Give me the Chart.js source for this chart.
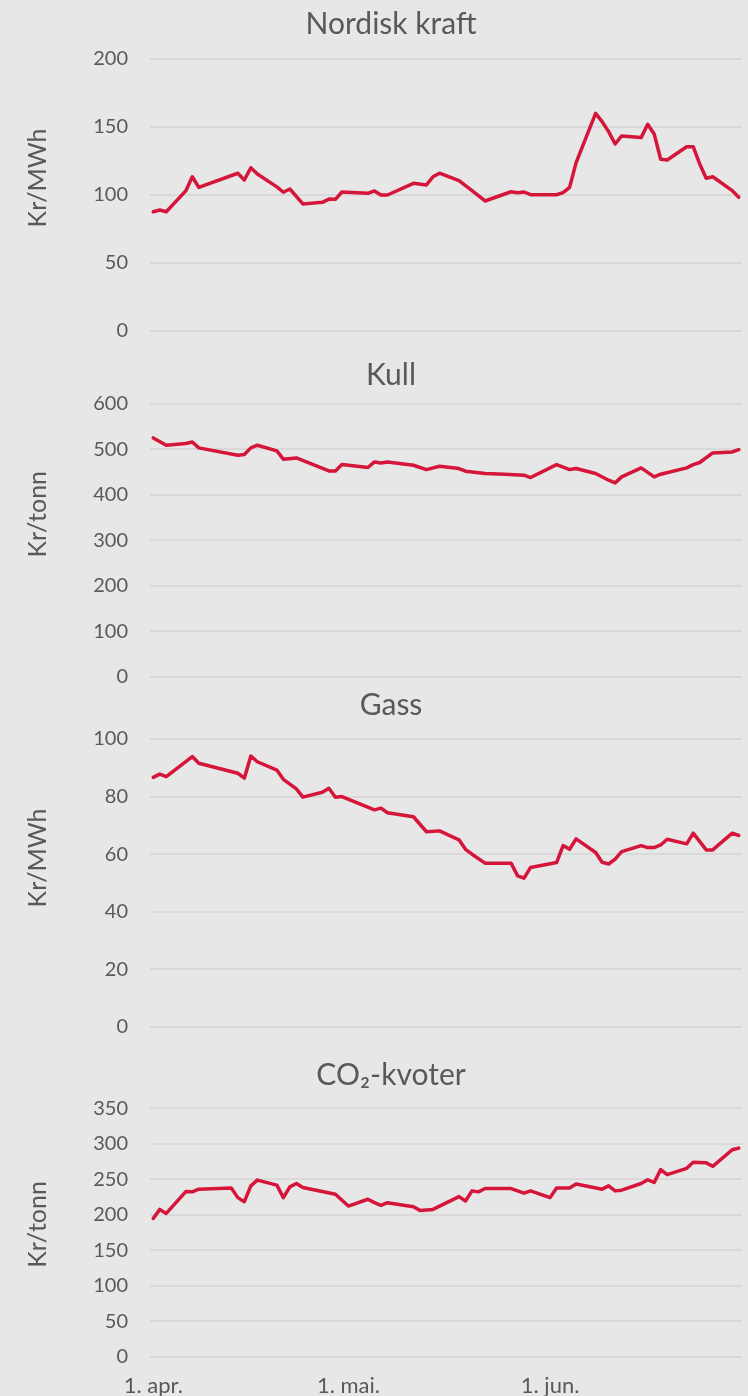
<!DOCTYPE html>
<html>
<head>
<meta charset="utf-8">
<script src="https://cdn.jsdelivr.net/npm/chart.js@4"></script>
<style>
html,body{margin:0;padding:0;background:#e6e7e6;}
#wrap{position:relative;width:748px;height:1396px;overflow:hidden;background:#e6e7e6;}
canvas{position:absolute;left:0;}
</style>
</head>
<body>
<div id="wrap">
<canvas id="c1"></canvas>
<canvas id="c2"></canvas>
<canvas id="c3"></canvas>
<canvas id="c4"></canvas>
</div>
<script>
// Days counted from 1 April (day 0)
const xTickDays = [0, 30, 61];
const xTickLabels = ['1. apr.', '1. mai.', '1. jun.'];

const titles = ['Nordisk kraft', 'Kull', 'Gass', 'CO\u2082-kvoter'];
const units = ['Kr/MWh', 'Kr/tonn', 'Kr/MWh', 'Kr/tonn'];
const yMax = [200, 600, 100, 350];
const yStep = [50, 100, 20, 50];

const kraftDays = [0,1,2,5,6,7,13,14,15,16,19,20,21,23,26,27,28,29,33,34,35,36,40,42,43,44,47,49,51,55,56,57,58,62,63,64,65,68,69,70,71,72,75,76,77,78,79,82,83,84,85,86,89,90];
const kraftVals = [87.7,89,87.7,103,113.4,105.6,116,111,120,115.4,106,102,104.4,93.4,94.6,97,96.8,102.2,101.2,103,100,100,108.6,107.4,113.4,116,110.5,103.2,95.6,102.4,101.7,102.2,100.2,100.2,101.7,105.6,123.8,160,153.9,146.6,137.5,143.4,142.2,152,144.9,126.3,125.7,135.5,135.5,122.8,112.3,113.4,103.2,98.3];

const kullDays = [0,2,5,6,7,13,14,15,16,19,20,22,27,28,29,33,34,35,36,40,42,44,47,48,51,54,57,58,62,64,65,68,70,71,72,75,77,78,82,83,84,86,89,90];
const kullVals = [524.5,508.5,512.2,515.7,502.6,486.5,488,502.6,508.5,496,477.8,480.6,452,452,466,459.5,471.8,469.6,471.8,464.6,455,462.4,457.3,451.4,446.4,444.8,442.7,437.6,466,455,457.3,446.4,431.7,425.8,439,458.7,439,444.8,458.7,466,470.5,491.6,493.8,499];

const gassDays = [0,1,2,6,7,13,14,15,16,19,20,22,23,26,27,28,29,34,35,36,40,42,44,47,48,49,51,55,56,57,58,62,63,64,65,68,69,70,71,72,75,76,77,78,79,82,83,85,86,89,90];
const gassVals = [86.7,87.8,86.9,93.9,91.6,88.1,86.4,94.1,92.1,89.2,86,82.7,79.8,81.5,82.9,79.8,80,75.4,76,74.4,73,67.8,68.1,65,61.7,60,56.9,56.9,52.5,51.7,55.4,57.1,63,61.7,65.3,60.6,57.2,56.6,58.3,60.9,63,62.3,62.3,63.2,65.2,63.6,67.3,61.5,61.5,67.3,66.5];

const co2Days = [0,1,2,5,6,7,12,13,14,15,16,19,20,21,22,23,28,30,33,34,35,36,40,41,43,47,48,49,50,51,55,57,58,61,62,64,65,69,70,71,72,75,76,77,78,79,82,83,85,86,89,90];
const co2Vals = [194.7,207.5,201.8,232.6,232.2,236,237.5,224.1,218.4,240.7,248.8,241.7,224.1,239.3,244,238.3,228.9,212.2,221.8,217,213.2,217,211.3,206.1,207.5,225.5,219.4,233.6,232.2,236.9,236.9,230.3,233.6,224.1,237.5,237.5,243.2,236,240.7,233.6,234.6,244,249.3,245.4,263.5,256.4,265.4,273.9,273.1,268.2,291.6,293.9];

const seriesDays = [kraftDays, kullDays, gassDays, co2Days];
const seriesVals = [kraftVals, kullVals, gassVals, co2Vals];

// layout (pixels)
const panels = [
  {top: 6,    height: 359, titleGap: 17, titleShift: 17},
  {top: 357,  height: 354, titleGap: 10.5, titleShift: 26},
  {top: 687,  height: 374, titleGap: 16, titleShift: 25},
  {top: 1057, height: 350, titleGap: 15.3, titleShift: 8}
];

const TXT = '#595959';
const FONT = 'Lato, "Open Sans", sans-serif';
const RED = '#d6153a';
const GRID = '#d8d9d8';

const yTitlePlugin = {
  id: 'yTitle',
  afterDraw(chart, args, opts) {
    const ca = chart.chartArea;
    const ctx = chart.ctx;
    ctx.save();
    ctx.fillStyle = TXT;
    ctx.font = '25px ' + FONT;
    ctx.textAlign = 'center';
    ctx.textBaseline = 'middle';
    ctx.translate(opts.x, (ca.top + ca.bottom) / 2 - opts.shift);
    ctx.rotate(-Math.PI / 2);
    ctx.fillText(opts.text, 0, 0);
    ctx.restore();
  }
};

for (let i = 0; i < 4; i++) {
  const p = panels[i];
  const cv = document.getElementById('c' + (i + 1));
  cv.style.top = p.top + 'px';
  cv.style.width = '748px';
  cv.style.height = p.height + 'px';
  cv.width = 748; cv.height = p.height;
  const isLast = i === 3;
  const pts = seriesDays[i].map((d, k) => ({x: d, y: seriesVals[i][k]}));
  new Chart(cv, {
    type: 'line',
    data: {datasets: [{
      data: pts,
      borderColor: RED,
      borderWidth: 3.5,
      pointRadius: 0,
      tension: 0,
      fill: false,
      borderJoinStyle: 'round',
      borderCapStyle: 'round'
    }]},
    plugins: [yTitlePlugin],
    options: {
      responsive: false,
      animation: false,
      devicePixelRatio: 1,
      layout: {padding: {left: 40, right: 6, top: 0, bottom: 0}},
      plugins: {
        legend: {display: false},
        tooltip: {enabled: false},
        title: {
          display: true,
          text: titles[i],
          color: TXT,
          font: {family: FONT, size: 30, weight: 'normal', lineHeight: 1.2},
          padding: {top: 0, bottom: p.titleGap}
        },
        yTitle: {text: units[i], x: 38, shift: p.titleShift}
      },
      scales: {
        x: {
          type: 'linear',
          min: -0.5,
          max: 90.5,
          display: isLast,
          grid: {display: false},
          border: {display: false},
          afterBuildTicks(scale) { scale.ticks = xTickDays.map(v => ({value: v})); },
          ticks: {
            autoSkip: false,
            maxRotation: 0,
            padding: 8,
            color: TXT,
            font: {family: FONT, size: 22, lineHeight: 1.2},
            callback(v) { const k = xTickDays.indexOf(v); return k >= 0 ? xTickLabels[k] : ''; }
          }
        },
        y: {
          min: 0,
          max: yMax[i],
          afterFit(scale) { scale.width = 110; },
          grid: {color: GRID, lineWidth: 2, drawTicks: false},
          border: {display: false},
          ticks: {
            stepSize: yStep[i],
            padding: 22,
            color: TXT,
            font: {family: FONT, size: 20, lineHeight: 1.2}
          }
        }
      }
    }
  });
}
</script>
</body>
</html>
